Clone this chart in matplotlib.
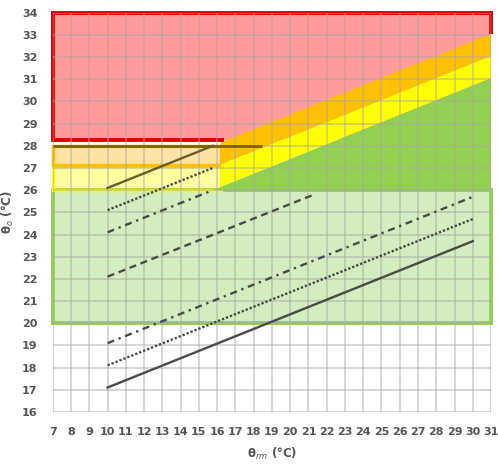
import matplotlib
matplotlib.use("Agg")
import matplotlib.pyplot as plt
from matplotlib.patches import Rectangle, Polygon

# ---- data ----
x_ticks = list(range(7, 32))
y_ticks = list(range(16, 35))

# lower limit lines (theta_rm from 10 to 30)
low_x = [10, 30]
low_cat1 = [19.1, 25.7]   # dash-dot
low_cat2 = [18.1, 24.7]   # dotted
low_cat3 = [17.1, 23.7]   # solid

# upper limit lines (only the part below the horizontal zones)
up_x = [10, 15.76]
up_cat1 = [24.1, 26.0]    # dash-dot
up_cat2 = [25.1, 27.0]    # dotted
up_cat3 = [26.1, 28.0]    # solid
comfort_x = [10, 21.3]
comfort_y = [22.1, 25.8]  # dashed

# sloped bands (theta_rm from 16.2 to 31)
band_x = [16.2, 31]
band_top3 = [28.15, 33.05]
band_top2 = [27.15, 32.05]
band_top1 = [26.15, 31.05]
green_x = [15.76, 31]
green_top = [26.0, 31.05]
green_base = 26.0

# horizontal zones: (x0, x1, y0, y1)
zone_red = (7, 31, 28.25, 34)
red_border_end = 16.4
zone_orange = (7, 16.2, 27.15, 28)
zone_yellow = (7, 16.2, 26, 27.1)
zone_green = (7, 31, 20, 26)
brown_x = [7, 18.45]
brown_y = [28, 28]

fig = plt.figure(figsize=(4.98, 4.74), dpi=100)
ax = fig.add_axes([0.106, 0.131, 0.88, 0.842])
ax.set_xlim(7, 31)
ax.set_ylim(16, 34)


def zone(z, face, edge, lw, ez):
    x0, x1, y0, y1 = z
    ax.add_patch(Rectangle((x0, y0), x1 - x0, y1 - y0, facecolor=face,
                           edgecolor='none', zorder=0.5))
    if edge is not None:
        ax.add_patch(Rectangle((x0, y0), x1 - x0, y1 - y0, fill=False,
                               edgecolor=edge, lw=lw, zorder=ez, clip_on=False))


zone(zone_red, '#FF9B9B', None, 0, 0)
zone(zone_green, '#D3EDBE', '#92D050', 2.8, 1.5)
zone(zone_yellow, '#FFFFA0', '#FFFF00', 2.5, 1.6)
zone(zone_orange, '#FFE3A6', '#FFC000', 2.5, 1.7)

# red border: open path along the red zone, ending where the sloped bands start
rx0, rx1, ry0, ry1 = zone_red
ax.plot([red_border_end, rx0, rx0, rx1, rx1], [ry0, ry0, ry1, ry1, band_top3[-1]],
        color='#E00000', lw=2.8, zorder=2.5, clip_on=False,
        solid_joinstyle='miter', solid_capstyle='butt')

# sloped bright bands
ax.add_patch(Polygon(list(zip(band_x, band_top3)) + list(zip(band_x[::-1], band_top2[::-1])),
                     closed=True, facecolor='#FFC000', edgecolor='none', zorder=2))
ax.add_patch(Polygon(list(zip(band_x, band_top2)) + list(zip(band_x[::-1], band_top1[::-1])),
                     closed=True, facecolor='#FFFF00', edgecolor='none', zorder=2))
ax.add_patch(Polygon(list(zip(green_x, green_top)) + [(green_x[1], green_base), (green_x[0], green_base)],
                     closed=True, facecolor='#92D050', edgecolor='none', zorder=2))

ax.plot(brown_x, brown_y, color='#7F6000', lw=2, zorder=3, solid_capstyle='butt')

lc = '#4A4A4A'
ax.plot(low_x, low_cat3, color=lc, lw=1.7, zorder=3)
ax.plot(low_x, low_cat2, color=lc, lw=1.7, ls=(0, (1, 0.8)), zorder=3)
ax.plot(low_x, low_cat1, color=lc, lw=1.7, ls=(0, (3, 2, 1, 2)), zorder=3)
ax.plot(up_x, up_cat3, color='#6B5A2A', lw=1.7, zorder=3)
ax.plot(up_x, up_cat2, color=lc, lw=1.7, ls=(0, (1, 0.8)), zorder=3)
ax.plot(up_x, up_cat1, color=lc, lw=1.7, ls=(0, (3, 2, 1, 2)), zorder=3)
ax.plot(comfort_x, comfort_y, color=lc, lw=1.7, ls=(0, (3, 2)), zorder=3)

ax.set_xticks(x_ticks)
ax.set_yticks(y_ticks)
ax.grid(True, color='#A8A8A8', alpha=0.5, lw=1.3, zorder=1)
ax.set_axisbelow(False)
for s in ax.spines.values():
    s.set_visible(False)
ax.tick_params(length=0, labelsize=8, labelcolor='#555555', pad=11)
for lab in ax.get_xticklabels() + ax.get_yticklabels():
    lab.set_fontweight('bold')

ax.set_xlabel('θ$_{rm}$ (°C)', fontsize=8.5, fontweight='bold', color='#555555', labelpad=6)
ax.set_ylabel('θ$_{o}$ (°C)', fontsize=8.5, fontweight='bold', color='#555555', labelpad=4)

fig.savefig('out.png', dpi=100)
